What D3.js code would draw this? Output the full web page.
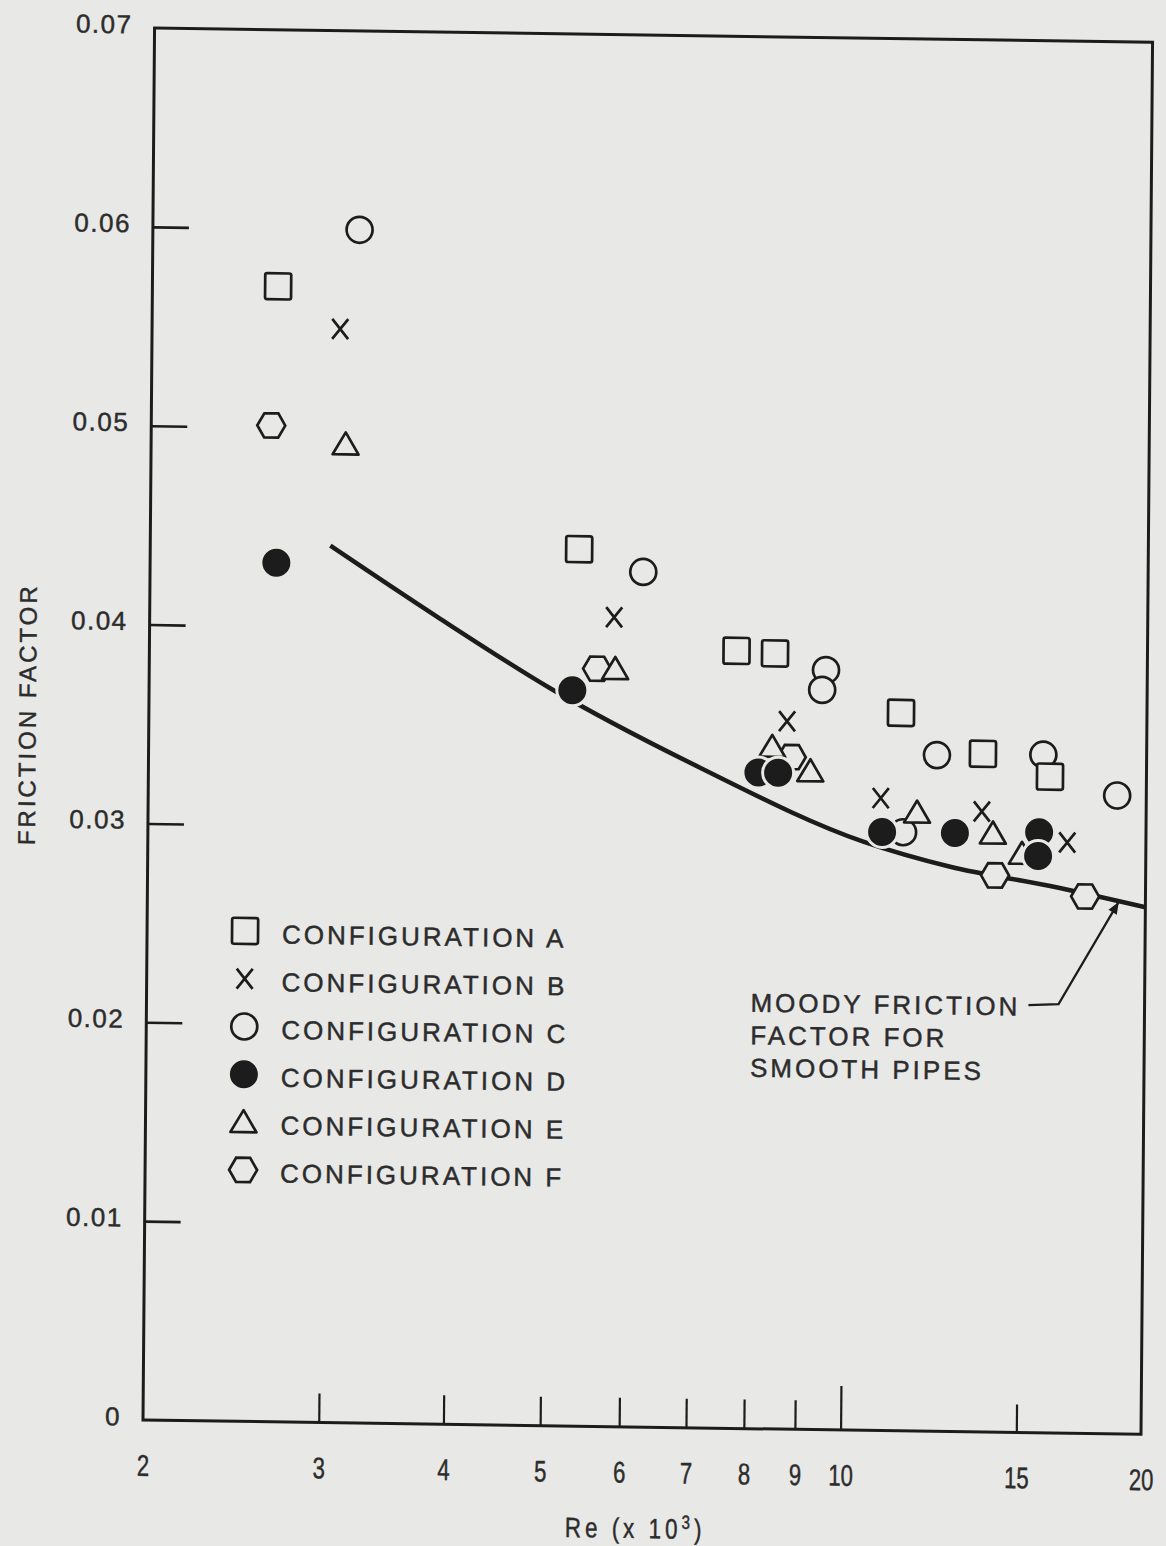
<!DOCTYPE html>
<html><head><meta charset="utf-8">
<script src="https://cdn.jsdelivr.net/npm/d3@7/dist/d3.min.js"></script>
<style>
html,body{margin:0;padding:0;background:#e8e8e6;}
svg{display:block}
</style></head><body>
<svg id="chart" width="1166" height="1546"></svg>
<script>
// ---- data (Re in thousands, friction factor) ----
const xTicks = [2,3,4,5,6,7,8,9,10,15,20];
const yTicks = [0,0.01,0.02,0.03,0.04,0.05,0.06,0.07];
const seriesNames = ["CONFIGURATION A","CONFIGURATION B","CONFIGURATION C","CONFIGURATION D","CONFIGURATION E","CONFIGURATION F"];
const configA = [[2.673,0.0571],[5.38,0.0441],[7.75,0.0391],[8.47,0.0390],[11.34,0.0361],[13.71,0.0341],[16.01,0.0330]];
const configB = [[3.087,0.0550],[5.84,0.0407],[8.72,0.0356],[10.84,0.0318],[13.69,0.0312],[16.68,0.0297]];
const configC = [[3.222,0.0600],[6.24,0.0430],[9.53,0.0382],[9.45,0.0372],[11.42,0.0301],[12.33,0.0340],[15.76,0.0341],[18.70,0.0321]];
const configD = [[2.676,0.0432],[5.31,0.0370],[8.17,0.0330],[8.55,0.0330],[10.88,0.0301],[12.87,0.0301],[15.63,0.0302],[15.60,0.0290]];
const configE = [[3.133,0.0492],[5.86,0.0381],[8.43,0.0343],[9.21,0.0331],[11.79,0.0311],[14.05,0.0301],[15.03,0.0291]];
const configF = [[2.638,0.0501],[5.62,0.0381],[8.82,0.0338],[14.13,0.0280],[17.40,0.0270]];
const moodyRe = [3.03,3.91,5.04,7.14,10.42,12.74,16.05,20];
const moodyF  = [0.0441,0.0405,0.0371,0.0332,0.0296,0.0284,0.0275,0.0265];
const arrowRe = [15.3,16.4,18.78];
const arrowF  = [0.0215,0.02157,0.0267];
const noteLines = ["MOODY FRICTION","FACTOR FOR","SMOOTH PIPES"];

// ---- style ----
const PAPER = "#e8e8e6", INK = "#1c1c1c", TEXT = "#2c2c2c";
const FONT = "'Liberation Sans', Arial, Helvetica, sans-serif";
const L = 143, R = 1141, T = 28, B = 1420;
// slight skew of the scanned page
const SKX = -0.0083, SKY = 0.0143;

const svg = d3.select("#chart");
svg.append("rect").attr("width",1166).attr("height",1546).attr("fill",PAPER);
const g = svg.append("g")
 .attr("transform",`matrix(1,${SKY},${SKX},1,${-SKX*B},${-SKY*L})`);

const x = d3.scaleLog().domain([2,20]).range([L,R]);
const y = d3.scaleLinear().domain([0,0.07]).range([B,T]);

function styleText(sel,size,ls){
  return sel.attr("font-family",FONT).attr("font-size",size).attr("letter-spacing",ls)
   .attr("fill",TEXT).attr("stroke",TEXT).attr("stroke-width",0.45);
}

// frame
g.append("rect").attr("x",L).attr("y",T).attr("width",R-L).attr("height",B-T)
 .attr("fill","none").attr("stroke",INK).attr("stroke-width",3);

// y axis
const yAx = g.append("g").attr("transform",`translate(${L},0)`)
 .call(d3.axisLeft(y).tickValues(yTicks).tickFormat(d=>d===0?"0":d3.format(".2f")(d))
   .tickSizeInner(-36).tickSizeOuter(0).tickPadding(22));
yAx.select(".domain").remove();
yAx.selectAll(".tick line").attr("stroke",INK).attr("stroke-width",2.6)
 .attr("display",d=>(d===0||d===0.07)?"none":null);
styleText(yAx.selectAll(".tick text"),26,1.5).attr("dy","0.2em");

// x axis
const xAx = g.append("g").attr("transform",`translate(0,${B})`)
 .call(d3.axisBottom(x).tickValues(xTicks).tickFormat(d3.format("d"))
   .tickSizeInner(-29).tickSizeOuter(0).tickPadding(0));
xAx.select(".domain").remove();
xAx.selectAll(".tick line").attr("stroke",INK).attr("stroke-width",2.2)
 .attr("y2",d=>d===10?-44:(d===15?-28:-29))
 .attr("display",d=>(d===2||d===20)?"none":null);
styleText(xAx.selectAll(".tick text"),30,0).attr("y",45).attr("dy","0.36em")
 .attr("transform","scale(0.74,1)");

// axis titles
const xt = styleText(g.append("text"),28,5).attr("x",636/0.8).attr("y",1531)
 .attr("transform","scale(0.8,1)").attr("text-anchor","middle");
xt.append("tspan").text("Re (x 10");
xt.append("tspan").attr("dy",-10).attr("font-size",19).text("3");
xt.append("tspan").attr("dy",10).text(")");

styleText(g.append("text"),24,3).attr("transform","translate(30,716) rotate(-90)")
 .attr("text-anchor","middle").text("FRICTION FACTOR");

// Moody curve
const moody = moodyRe.map((r,i)=>[r,moodyF[i]]);
g.append("path").datum(moody).attr("fill","none").attr("stroke",INK)
 .attr("stroke-width",4.5).attr("stroke-linecap","butt")
 .attr("d",d3.line().x(d=>x(d[0])).y(d=>y(d[1])).curve(d3.curveMonotoneX));

// markers
function drawMarker(sel,type){
  const sw = 2.7;
  if(type==="A") sel.append("rect").attr("x",-13).attr("y",-13).attr("width",26).attr("height",26).attr("rx",2)
      .attr("fill",PAPER).attr("stroke",INK).attr("stroke-width",sw);
  if(type==="B") sel.append("path").attr("d","M-8,-10L8,10M-8,10L8,-10")
      .attr("fill","none").attr("stroke",INK).attr("stroke-width",sw);
  if(type==="C") sel.append("circle").attr("r",13)
      .attr("fill",PAPER).attr("stroke",INK).attr("stroke-width",sw);
  if(type==="D") sel.append("circle").attr("r",15.5)
      .attr("fill",INK).attr("stroke",PAPER).attr("stroke-width",3);
  if(type==="E") sel.append("path").attr("d","M0,-12L13,10L-13,10Z")
      .attr("fill",PAPER).attr("stroke",INK).attr("stroke-width",sw).attr("stroke-linejoin","round");
  if(type==="F") sel.append("path").attr("d","M14,0L7,12.1L-7,12.1L-14,0L-7,-12.1L7,-12.1Z")
      .attr("fill",PAPER).attr("stroke",INK).attr("stroke-width",sw);
}
const order = [["C",configC],["F",configF],["A",configA],["E",configE],["D",configD],["B",configB]];
order.forEach(([t,data])=>{
  g.append("g").selectAll("g").data(data).join("g")
   .attr("transform",d=>`translate(${x(d[0])},${y(d[1])})`)
   .each(function(){drawMarker(d3.select(this),t);});
});

// legend
const types = ["A","B","C","D","E","F"];
const leg = g.append("g");
types.forEach((t,i)=>{
  const yy = 929.5 + i*47.8;
  const m = leg.append("g").attr("transform",`translate(241,${yy})`);
  drawMarker(m,t);
  styleText(leg.append("text"),26,3).attr("x",278).attr("y",yy+12).text(seriesNames[i]);
});

// annotation
noteLines.forEach((s,i)=>{
  styleText(g.append("text"),26,3).attr("x",747).attr("y",1003+i*32.5).text(s);
});
svg.append("defs").append("marker").attr("id","ah").attr("viewBox","0 0 10 10")
 .attr("refX",9).attr("refY",5).attr("orient","auto").attr("markerUnits","userSpaceOnUse")
 .attr("markerWidth",16).attr("markerHeight",12)
 .append("path").attr("d","M0,1L10,5L0,9Z").attr("fill",INK);
const arrowPts = arrowRe.map((r,i)=>[x(r),y(arrowF[i])]);
g.append("path").attr("d",d3.line()(arrowPts)).attr("fill","none").attr("stroke",INK)
 .attr("stroke-width",2.2).attr("marker-end","url(#ah)");
</script>
</body></html>
